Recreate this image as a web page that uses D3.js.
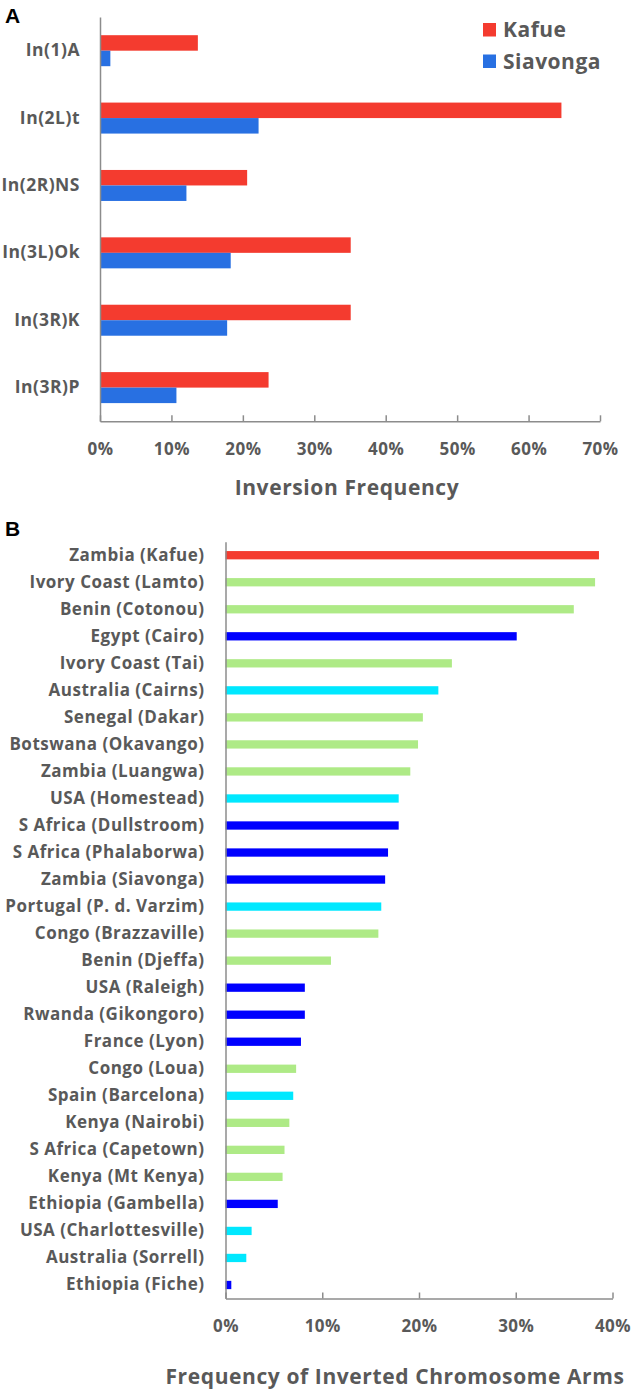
<!DOCTYPE html>
<html>
<head>
<meta charset="utf-8">
<script src="https://cdn.jsdelivr.net/npm/d3@7"></script>
<style>
  html, body { margin: 0; padding: 0; background: #ffffff; }
  svg { display: block; }
  text { font-family: "Open Sans", Lato, sans-serif; font-weight: 700; fill: #595959; letter-spacing: 0.5px; }
</style>
</head>
<body>
<svg id="chart" width="633" height="1393"></svg>
<script>
// ---------- Panel A data ----------
const inversions = ["In(1)A", "In(2L)t", "In(2R)NS", "In(3L)Ok", "In(3R)K", "In(3R)P"];
const seriesNames = ["Kafue", "Siavonga"];
const kafueFreq = [0.137, 0.646, 0.206, 0.351, 0.351, 0.236];
const siavongaFreq = [0.0145, 0.222, 0.121, 0.183, 0.178, 0.107];
const ticksA = [0, 0.1, 0.2, 0.3, 0.4, 0.5, 0.6, 0.7];

// ---------- Panel B data ----------
const populations = [
  "Zambia (Kafue)", "Ivory Coast (Lamto)", "Benin (Cotonou)", "Egypt (Cairo)",
  "Ivory Coast (Tai)", "Australia (Cairns)", "Senegal (Dakar)", "Botswana (Okavango)",
  "Zambia (Luangwa)", "USA (Homestead)", "S Africa (Dullstroom)", "S Africa (Phalaborwa)",
  "Zambia (Siavonga)", "Portugal (P. d. Varzim)", "Congo (Brazzaville)", "Benin (Djeffa)",
  "USA (Raleigh)", "Rwanda (Gikongoro)", "France (Lyon)", "Congo (Loua)",
  "Spain (Barcelona)", "Kenya (Nairobi)", "S Africa (Capetown)", "Kenya (Mt Kenya)",
  "Ethiopia (Gambella)", "USA (Charlottesville)", "Australia (Sorrell)", "Ethiopia (Fiche)"
];
const armFreq = [
  0.386, 0.382, 0.360, 0.301, 0.234, 0.220, 0.204, 0.199,
  0.191, 0.179, 0.179, 0.168, 0.165, 0.161, 0.158, 0.109,
  0.082, 0.082, 0.078, 0.073, 0.070, 0.066, 0.061, 0.059,
  0.054, 0.027, 0.0215, 0.006
];
const popGroup = [
  "focal", "green", "green", "blue", "green", "cyan", "green", "green",
  "green", "cyan", "blue", "blue", "blue", "cyan", "green", "green",
  "blue", "blue", "blue", "green", "cyan", "green", "green", "green",
  "blue", "cyan", "cyan", "blue"
];
const groupKeys = ["focal", "green", "blue", "cyan"];
const ticksB = [0, 0.1, 0.2, 0.3, 0.4];

// ---------- styling ----------
const textColor = "#595959";
const axisColor = "#8c8c8c";
const seriesColor = d3.scaleOrdinal().domain(seriesNames).range(["#f43b2f", "#2870e2"]);
const groupColor = d3.scaleOrdinal().domain(groupKeys).range(["#f43b2f", "#aeea86", "#0000ff", "#00e8ff"]);

const svg = d3.select("#chart");

// ================= Panel A =================
const A = { left: 100, right: 600, top: 17, bottom: 421.3 };
const xA = d3.scaleLinear().domain([0, 0.7]).range([A.left, A.right]);
const yA = d3.scaleBand().domain(inversions).range([A.top, A.bottom])
  .paddingInner(0.54).paddingOuter(0.27);
const ySub = d3.scaleBand().domain(seriesNames).range([0, yA.bandwidth()]);

const gA = svg.append("g");
const rowsA = inversions.map((c, i) => ({ cat: c, values: [
  { key: "Kafue", v: kafueFreq[i] }, { key: "Siavonga", v: siavongaFreq[i] } ] }));

gA.selectAll("g.grp").data(rowsA).join("g")
  .attr("class", "grp")
  .attr("transform", d => `translate(0,${yA(d.cat)})`)
  .selectAll("rect").data(d => d.values).join("rect")
  .attr("x", xA(0))
  .attr("y", d => ySub(d.key))
  .attr("width", d => xA(d.v) - xA(0))
  .attr("height", ySub.bandwidth())
  .attr("fill", d => seriesColor(d.key));

// x axis A
const axA = gA.append("g").attr("transform", `translate(0,${A.bottom})`)
  .call(d3.axisBottom(xA).tickValues(ticksA).tickFormat(d3.format(".0%")).tickSize(-6).tickSizeOuter(0));
axA.select(".domain").attr("stroke", axisColor).attr("stroke-width", 1.5);
axA.selectAll(".tick line").attr("stroke", axisColor).attr("stroke-width", 1.5);
axA.selectAll(".tick text").attr("y", 28).attr("dy", "0.35em")
  .attr("font-size", 17).attr("fill", textColor);

// y axis A
const ayA = gA.append("g").attr("transform", `translate(${A.left},0)`)
  .call(d3.axisLeft(yA).tickSize(0).tickPadding(20).tickSizeOuter(0));
ayA.select(".domain").attr("stroke", axisColor).attr("stroke-width", 1.5);
ayA.selectAll(".tick text").attr("font-size", 17.5).attr("fill", textColor);

svg.append("text").attr("x", 347).attr("y", 488).attr("dy", "0.35em")
  .attr("text-anchor", "middle").attr("font-size", 21).style("letter-spacing", "0.6px")
  .text("Inversion Frequency");

// legend
const leg = svg.append("g").attr("transform", "translate(483,23)");
seriesNames.forEach((s, i) => {
  const g = leg.append("g").attr("transform", `translate(0,${i * 31.5})`);
  g.append("rect").attr("width", 13).attr("height", 13.5).attr("fill", seriesColor(s));
  g.append("text").attr("x", 20).attr("y", 7).attr("dy", "0.35em")
    .attr("font-size", 21).text(s);
});

svg.append("text").attr("x", 5).attr("y", 23)
  .style("font-family", "'Liberation Sans', Arial, sans-serif").style("font-weight", 700)
  .style("letter-spacing", "0px").style("fill", "#000").attr("font-size", 21).text("A");

// ================= Panel B =================
const B = { left: 225.5, right: 612.5, top: 541.7, bottom: 1298.5 };
const xB = d3.scaleLinear().domain([0, 0.4]).range([B.left, B.right]);
const yB = d3.scaleBand().domain(populations).range([B.top, B.bottom])
  .paddingInner(0.693).paddingOuter(0.3465);

const gB = svg.append("g");
gB.selectAll("rect").data(populations).join("rect")
  .attr("x", xB(0))
  .attr("y", d => yB(d))
  .attr("width", (d, i) => xB(armFreq[i]) - xB(0))
  .attr("height", yB.bandwidth())
  .attr("fill", (d, i) => groupColor(popGroup[i]));

const axB = gB.append("g").attr("transform", `translate(0,${B.bottom})`)
  .call(d3.axisBottom(xB).tickValues(ticksB).tickFormat(d3.format(".0%")).tickSize(-6).tickSizeOuter(0));
axB.select(".domain").attr("stroke", axisColor).attr("stroke-width", 1.5);
axB.selectAll(".tick line").attr("stroke", axisColor).attr("stroke-width", 1.5);
axB.selectAll(".tick text").attr("y", 27.5).attr("dy", "0.35em")
  .attr("font-size", 17).attr("fill", textColor);

const ayB = gB.append("g").attr("transform", `translate(${B.left},0)`)
  .call(d3.axisLeft(yB).tickSize(0).tickPadding(21).tickSizeOuter(0));
ayB.select(".domain").attr("stroke", axisColor).attr("stroke-width", 1.5);
ayB.selectAll(".tick text").attr("font-size", 17).attr("fill", textColor);

svg.append("text").attr("x", 395).attr("y", 1377).attr("dy", "0.35em")
  .attr("text-anchor", "middle").attr("font-size", 21).style("letter-spacing", "0.6px")
  .text("Frequency of Inverted Chromosome Arms");

svg.append("text").attr("x", 5).attr("y", 536)
  .style("font-family", "'Liberation Sans', Arial, sans-serif").style("font-weight", 700)
  .style("letter-spacing", "0px").style("fill", "#000").attr("font-size", 21).text("B");
</script>
</body>
</html>
